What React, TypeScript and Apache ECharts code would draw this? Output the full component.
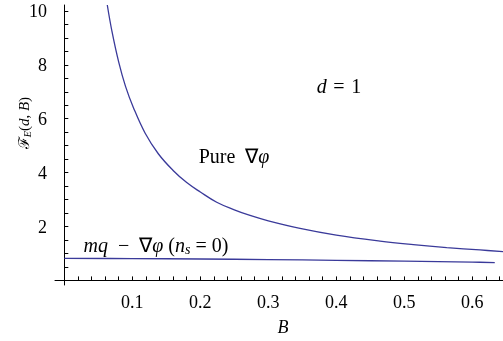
import React, { useEffect, useRef } from "react";
import * as echarts from "echarts";

// Pure ∇φ curve (B, F_E)
const pureB = [0.0632, 0.07, 0.08, 0.09, 0.1015, 0.1187, 0.1382, 0.16, 0.18, 0.2, 0.2241, 0.25, 0.2731, 0.3, 0.3466, 0.4, 0.4643, 0.5132, 0.5624, 0.6113, 0.6451];
const pureF = [10.22, 9.25, 8.1, 7.2, 6.42, 5.47, 4.7, 4.08, 3.63, 3.28, 2.9, 2.62, 2.41, 2.21, 1.93, 1.68, 1.46, 1.33, 1.22, 1.13, 1.07];

// mq − ∇φ (n_s = 0) curve
const mqB = [0, 0.1, 0.2, 0.3, 0.4, 0.5, 0.6, 0.633];
const mqF = [0.82, 0.81, 0.795, 0.775, 0.745, 0.715, 0.68, 0.66];

// tick labels and tick marks
const xMajor = [0.1, 0.2, 0.3, 0.4, 0.5, 0.6];
const xTicks = [0.02, 0.04, 0.06, 0.08, 0.1, 0.12, 0.14, 0.16, 0.18, 0.2, 0.22, 0.24, 0.26, 0.28, 0.3, 0.32, 0.34, 0.36, 0.38, 0.4, 0.42, 0.44, 0.46, 0.48, 0.5, 0.52, 0.54, 0.56, 0.58, 0.6, 0.62, 0.64];
const yMajor = [2, 4, 6, 8, 10];
const yTicks = [0.5, 1, 1.5, 2, 2.5, 3, 3.5, 4, 4.5, 5, 5.5, 6, 6.5, 7, 7.5, 8, 8.5, 9, 9.5, 10];

const X_MIN = -0.0137;
const X_MAX = 0.6451;
const Y_MIN = -0.17;
const Y_MAX = 10.22;

const W = 503;
const H = 341;
const GRID = { left: 55, right: 0, top: 5, bottom: 56 };

const FONT = "'Liberation Serif', serif";
const LINE = "#3a3a9a";

export default function App() {
  const ref = useRef<HTMLDivElement>(null);
  useEffect(() => {
    if (!ref.current) return;
    const chart = echarts.init(ref.current, undefined, { renderer: "svg" });
    const mk = (size: number) => ({
      i: { fontFamily: FONT, fontStyle: "italic", fontSize: size, color: "#000" },
      n: { fontFamily: FONT, fontSize: size, color: "#000" },
      sub: { fontFamily: FONT, fontStyle: "italic", fontSize: Math.round(size * 0.68), color: "#000", padding: [Math.round(size * 0.45), 0, 0, 0] },
    });
    const richAnn = mk(20);
    const richTitle = mk(15);
    chart.setOption({
      animation: false,
      grid: { ...GRID, outerBoundsMode: "none", containLabel: false },
      xAxis: {
        type: "value",
        min: X_MIN,
        max: X_MAX,
        splitLine: { show: false },
        axisLine: { show: true, onZero: true, lineStyle: { color: "#000", width: 1 } },
        axisTick: { show: true, inside: true, length: 4, customValues: xTicks, lineStyle: { color: "#000", width: 1 } },
        axisLabel: {
          show: true,
          customValues: xMajor,
          formatter: (v: number) => v.toFixed(1),
          margin: 8,
          color: "#000",
          fontFamily: FONT,
          fontSize: 18,
        },
      },
      yAxis: {
        type: "value",
        min: Y_MIN,
        max: Y_MAX,
        splitLine: { show: false },
        axisLine: { show: true, onZero: true, lineStyle: { color: "#000", width: 1 } },
        axisTick: { show: true, inside: true, length: 4, customValues: yTicks, lineStyle: { color: "#000", width: 1 } },
        axisLabel: {
          show: true,
          customValues: yMajor,
          formatter: (v: number) => String(v),
          margin: 8,
          color: "#000",
          fontFamily: FONT,
          fontSize: 18,
        },
      },
      series: [
        {
          name: "Pure ∇φ",
          type: "line",
          data: pureB.map((b, i) => [b, pureF[i]]),
          showSymbol: false,
          smooth: 0.4,
          clip: true,
          lineStyle: { color: LINE, width: 1.3 },
        },
        {
          name: "mq − ∇φ (n_s = 0)",
          type: "line",
          data: mqB.map((b, i) => [b, mqF[i]]),
          showSymbol: false,
          smooth: 0.4,
          clip: true,
          lineStyle: { color: LINE, width: 1.3 },
        },
      ],
      graphic: [
        {
          type: "text",
          x: 283,
          y: 327,
          style: { text: "B", font: `italic 18px ${FONT}`, fill: "#000", textAlign: "center", textVerticalAlign: "middle" },
        },
        {
          type: "text",
          x: 24,
          y: 123,
          rotation: Math.PI / 2,
          style: {
            text: "{n|ℱ}{sub|E}{n|(}{i|d}{n|, }{i|B}{n|)}",
            rich: richTitle,
            textAlign: "center",
            textVerticalAlign: "middle",
          },
        },
        {
          type: "text",
          x: 339,
          y: 86,
          style: { text: "{i|d}{n|\u2004=\u20041}", rich: richAnn, textAlign: "center", textVerticalAlign: "middle" },
        },
        {
          type: "text",
          x: 234,
          y: 156,
          style: { text: "{n|Pure  ∇}{i|φ}", rich: richAnn, textAlign: "center", textVerticalAlign: "middle" },
        },
        {
          type: "text",
          x: 156,
          y: 245,
          style: { text: "{i|mq}{n|  −  ∇}{i|φ}{n| (}{i|n}{sub|s}{n| = 0)}", rich: richAnn, textAlign: "center", textVerticalAlign: "middle" },
        },
      ],
    });
    return () => chart.dispose();
  }, []);
  return <div ref={ref} style={{ position: "fixed", left: 0, top: 0, width: W, height: H }} />;
}
